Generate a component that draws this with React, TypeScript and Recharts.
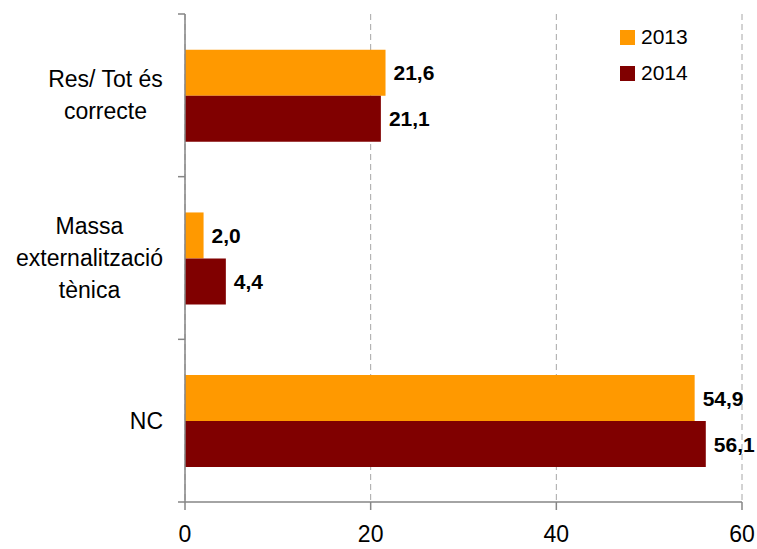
import { BarChart, Bar, XAxis, YAxis, CartesianGrid, Legend, LabelList } from 'recharts';

const categories = ['Res/ Tot és\ncorrecte', 'Massa\nexternalització\ntènica', 'NC'];
const values2013 = [21.6, 2.0, 54.9];
const values2014 = [21.1, 4.4, 56.1];
const xTicks = [0, 20, 40, 60];

const data = categories.map((name, i) => ({ name, y2013: values2013[i], y2014: values2014[i] }));

const FONT = 'Arial, "Liberation Sans", sans-serif';
const AXIS = '#868686';
const LABEL_GAP = 22;

let ctx: CanvasRenderingContext2D | null = null;
const textWidth = (s: string, font: string) => {
  if (!ctx) ctx = document.createElement('canvas').getContext('2d');
  if (!ctx) return s.length * 11;
  ctx.font = font;
  return ctx.measureText(s).width;
};

// multi-line category label (lines centred in a right-aligned block),
// plus Excel-style tick marks on the band boundaries
const CategoryTick = (props: any) => {
  const { x, y, payload, index, visibleTicksCount } = props;
  const lines = String(payload.value).split('\n');
  const font = `23px ${FONT}`;
  const block = Math.max(...lines.map((l) => textWidth(l, font)));
  const cx = x - block / 2;
  const lh = 32;
  const y0 = y - ((lines.length - 1) * lh) / 2;
  const half = payload.offset ?? 0;
  const ax = x + LABEL_GAP;
  const isLast = index === (visibleTicksCount ?? categories.length) - 1;
  return (
    <g>
      <line x1={ax - 7} x2={ax} y1={y - half} y2={y - half} stroke={AXIS} strokeWidth={1.5} />
      {isLast && <line x1={ax - 7} x2={ax} y1={y + half} y2={y + half} stroke={AXIS} strokeWidth={1.5} />}
      <text x={cx} y={y0} textAnchor="middle" fontSize={23} fontFamily={FONT} fill="#000" dominantBaseline="central">
        {lines.map((l, i) => (
          <tspan key={i} x={cx} y={y0 + i * lh}>
            {l}
          </tspan>
        ))}
      </text>
    </g>
  );
};

const LegendBox = () => (
  <div style={{ fontFamily: FONT, fontSize: 21, color: '#000' }}>
    {[
      { label: '2013', color: '#FF9900' },
      { label: '2014', color: '#800000' },
    ].map((it) => (
      <div key={it.label} style={{ display: 'flex', alignItems: 'center', height: 36 }}>
        <span style={{ width: 15, height: 15, background: it.color, marginRight: 6, display: 'inline-block' }} />
        <span>{it.label}</span>
      </div>
    ))}
  </div>
);

const fmt = (v: any) => Number(v).toFixed(1).replace('.', ',');

export default function App() {
  return (
    <div style={{ position: 'absolute', left: 0, top: 0, background: '#fff' }}>
      <BarChart
        width={757}
        height={549}
        data={data}
        layout="vertical"
        margin={{ top: 14, right: 15, left: 0, bottom: 0 }}
        barCategoryGap="22%"
        barGap={0}
      >
        <CartesianGrid horizontal={false} stroke="#A6A6A6" strokeDasharray="6 4" />
        <XAxis
          type="number"
          domain={[0, 60]}
          ticks={xTicks}
          height={47}
          stroke={AXIS}
          axisLine={{ stroke: AXIS, strokeWidth: 1.5 }}
          tickLine={{ stroke: AXIS, strokeWidth: 1.5 }}
          tickSize={8}
          tickMargin={16}
          tick={{ fill: '#000', fontSize: 23, fontFamily: FONT }}
        />
        <YAxis
          type="category"
          dataKey="name"
          width={185}
          axisLine={{ stroke: AXIS, strokeWidth: 1.5 }}
          tickLine={false}
          tickSize={0}
          tickMargin={LABEL_GAP}
          tick={<CategoryTick />}
        />
        <Legend
          layout="vertical"
          align="center"
          verticalAlign="middle"
          content={<LegendBox />}
          wrapperStyle={{ position: 'absolute', left: 620, top: 19, width: 100 }}
        />
        <Bar dataKey="y2013" name="2013" fill="#FF9900" isAnimationActive={false}>
          <LabelList dataKey="y2013" position="right" offset={8} formatter={fmt} fill="#000" fontSize={21} fontWeight="bold" fontFamily={FONT} />
        </Bar>
        <Bar dataKey="y2014" name="2014" fill="#800000" isAnimationActive={false}>
          <LabelList dataKey="y2014" position="right" offset={8} formatter={fmt} fill="#000" fontSize={21} fontWeight="bold" fontFamily={FONT} />
        </Bar>
      </BarChart>
    </div>
  );
}
